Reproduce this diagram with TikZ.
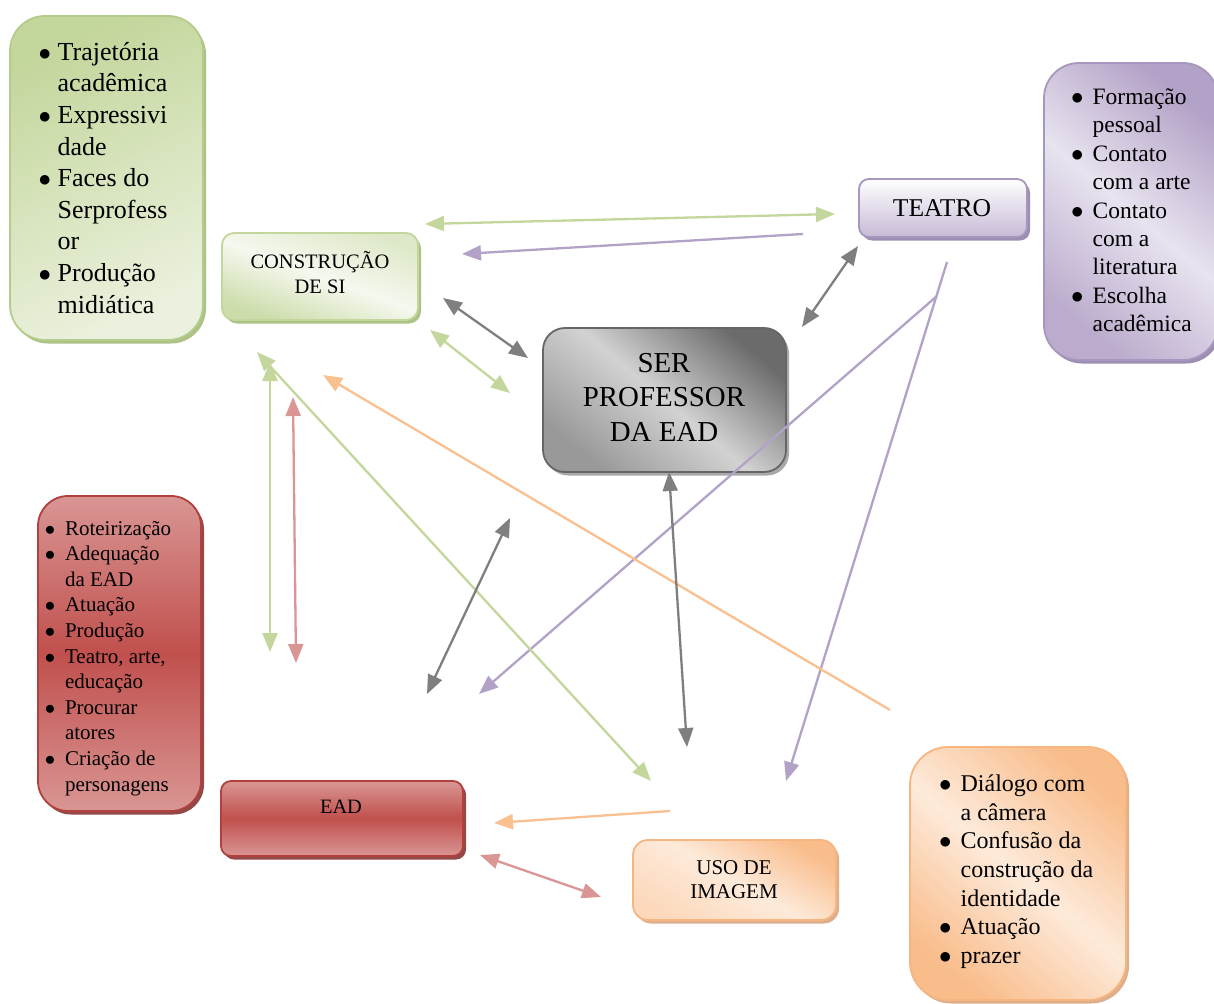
\documentclass[tikz,border=0pt]{standalone}
\usepackage{fontspec}
\setmainfont{Liberation Serif}
\usetikzlibrary{arrows.meta,shadows}
\definecolor{gline}{HTML}{C3D69B}
\definecolor{pline}{HTML}{B3A2C7}
\definecolor{kline}{HTML}{7F7F7F}
\definecolor{oline}{HTML}{FAC090}
\definecolor{rline}{HTML}{D99694}
\definecolor{gdark}{HTML}{C3D69B}
\definecolor{glight}{HTML}{EBF1DE}
\definecolor{gborder}{HTML}{B5CB8A}
\definecolor{gshad}{HTML}{9FB873}
\definecolor{pdark}{HTML}{B3A2C7}
\definecolor{plight}{HTML}{E8E3EF}
\definecolor{pborder}{HTML}{A797BE}
\definecolor{pshad}{HTML}{8E7BA8}
\definecolor{odark}{HTML}{F9BD8C}
\definecolor{olight}{HTML}{FDEADA}
\definecolor{oborder}{HTML}{F7B57F}
\definecolor{oshad}{HTML}{D9A27A}
\definecolor{rdark}{HTML}{C0504D}
\definecolor{rlight}{HTML}{D99694}
\definecolor{rborder}{HTML}{B2403D}
\definecolor{rshad}{HTML}{7F2A28}
\definecolor{kdark}{HTML}{6B6B6B}
\definecolor{klight}{HTML}{D2D2D2}
\definecolor{kborder}{HTML}{666666}
\definecolor{kshad}{HTML}{9A9A9A}
\newcommand{\bul}{$\bullet$}
\begin{document}
\begin{tikzpicture}[x=1pt,y=-1pt,
  boxbase/.style={line width=1.8pt, inner sep=0pt},
  shad/.style={drop shadow={shadow xshift=3pt,shadow yshift=-3.5pt,fill=#1,opacity=0.85}},
  arr/.style={line width=2.3pt, -{Triangle[length=19pt,width=15pt]}},
  darr/.style={line width=2.3pt, {Triangle[length=19pt,width=15pt]}-{Triangle[length=19pt,width=15pt]}},
  listtext/.style={anchor=north west, inner sep=0pt, align=left},
  lbl/.style={inner sep=0pt, align=center}
]
\useasboundingbox (0,0) rectangle (1214,1003);
\fill[white] (0,0) rectangle (1214,1003);

% ---------- list boxes ----------
\node[boxbase, draw=gborder, rounded corners=35pt, minimum width=193pt, minimum height=324pt,
  top color=gdark, bottom color=glight, shading angle=25, shad=gshad] (glist) at (106.5,178) {};
\node[listtext, font=\fontsize{26pt}{31.6pt}\selectfont] (gtext) at (38.5,38) {%
\begin{tabular}{@{}l@{\hspace{6.5pt}}l@{}}
\bul & Trajetória\\ & acadêmica\\
\bul & Expressivi\\ & dade\\
\bul & Faces do\\ & Serprofess\\ & or\\
\bul & Produção\\ & midiática
\end{tabular}};

\node[boxbase, draw=pborder, rounded corners=35pt, minimum width=174pt, minimum height=297pt,
  top color=pdark, bottom color=pdark!90!white, middle color=plight, shading angle=-40, shad=pshad] (plist) at (1131,211.5) {};
\node[listtext, font=\fontsize{23.5pt}{28.4pt}\selectfont] (ptext) at (1071,84.5) {%
\begin{tabular}{@{}l@{\hspace{9pt}}l@{}}
\bul & Formação\\ & pessoal\\
\bul & Contato\\ & com a arte\\
\bul & Contato\\ & com a\\ & literatura\\
\bul & Escolha\\ & acadêmica
\end{tabular}};

\node[boxbase, draw=rborder, rounded corners=30pt, minimum width=163pt, minimum height=315pt,
  top color=rlight, bottom color=rlight, middle color=rdark, shad=rshad] (rlist) at (119.5,653.5) {};
\node[listtext, font=\fontsize{21pt}{25.6pt}\selectfont] (rtext) at (44.75,517) {%
\begin{tabular}{@{}l@{\hspace{9.75pt}}l@{}}
\bul & Roteirização\\
\bul & Adequação\\ & da EAD\\
\bul & Atuação\\
\bul & Produção\\
\bul & Teatro, arte,\\ & educação\\
\bul & Procurar\\ & atores\\
\bul & Criação de\\ & personagens
\end{tabular}};

\node[boxbase, draw=oborder, rounded corners=38pt, minimum width=216pt, minimum height=253pt,
  top color=odark, bottom color=odark, middle color=olight, shading angle=-40, shad=oshad] (olist) at (1018,873.5) {};
\node[listtext, font=\fontsize{24pt}{28.7pt}\selectfont] (otext) at (939,771) {%
\begin{tabular}{@{}l@{\hspace{9pt}}l@{}}
\bul & Diálogo com\\ & a câmera\\
\bul & Confusão da\\ & construção da\\ & identidade\\
\bul & Atuação\\
\bul & prazer
\end{tabular}};

% ---------- concept boxes ----------
\node[boxbase, draw=gline, rounded corners=12pt, minimum width=196pt, minimum height=87pt,
  top color=gline!55!white, bottom color=gline!85!white, middle color=glight!50!white, shading angle=-20, shad=gshad] (cons) at (320,276.5) {};
\node[lbl, font=\fontsize{20.5pt}{25pt}\selectfont] (consl) at (320,273) {CONSTRUÇÃO\\DE SI};

\node[boxbase, draw=pborder, rounded corners=10pt, minimum width=168pt, minimum height=58pt,
  top color=white, bottom color=pline!75!white, shad=pshad] (teatro) at (943,208) {};
\node[lbl, font=\fontsize{25.6pt}{30pt}\selectfont] (teatrol) at (942,208) {TEATRO};

\node[boxbase, draw=kborder, rounded corners=22pt, minimum width=243pt, minimum height=144pt,
  top color=kdark, bottom color=kline!80!white, middle color=klight, shading angle=-40, shad=kshad] (ser) at (664.5,400) {};
\node[lbl, font=\fontsize{28.9pt}{34.5pt}\selectfont] (serl) at (664,397) {SER\\PROFESSOR\\DA EAD};

\node[boxbase, draw=rborder, rounded corners=10pt, minimum width=242pt, minimum height=75pt,
  top color=rlight, bottom color=rlight, middle color=rdark, shad=rshad] (ead) at (342,818.5) {};
\node[lbl, font=\fontsize{20.4pt}{24pt}\selectfont] (eadl) at (341,807) {EAD};

\node[boxbase, draw=oborder, rounded corners=15pt, minimum width=203pt, minimum height=80pt,
  top color=odark, bottom color=oline!60!white, middle color=olight, shading angle=-30, shad=oshad] (uso) at (734.5,880) {};
\node[lbl, font=\fontsize{21pt}{24pt}\selectfont] (usol) at (734,880) {USO DE\\IMAGEM};

% ---------- connector end points ----------
\coordinate (g1a) at (425,224);  \coordinate (g1b) at (835,214);
\coordinate (p2a) at (803,234);  \coordinate (p2b) at (462,254);
\coordinate (k3a) at (443,298);  \coordinate (k3b) at (528,358);
\coordinate (g4a) at (430,330);  \coordinate (g4b) at (510,393);
\coordinate (k5a) at (858,246);  \coordinate (k5b) at (802,327);
\coordinate (p6a) at (947,262);  \coordinate (p6b) at (786,781);
\coordinate (p7a) at (937,296);  \coordinate (p7b) at (479,694);
\coordinate (o8a) at (890,710);  \coordinate (o8b) at (323,375);
\coordinate (g9a) at (270,362);  \coordinate (g9b) at (270,652);
\coordinate (r10a) at (293,397); \coordinate (r10b) at (296,663);
\coordinate (g11a) at (257,352); \coordinate (g11b) at (651,781);
\coordinate (k12a) at (510,518); \coordinate (k12b) at (427,694);
\coordinate (k13a) at (669,472); \coordinate (k13b) at (687,747);
\coordinate (o14a) at (670,811); \coordinate (o14b) at (494,823);
\coordinate (r15a) at (480,855); \coordinate (r15b) at (601,897);

% ---------- connectors ----------
\draw[darr, gline] (g1a) -- (g1b);
\draw[arr, pline] (p2a) -- (p2b);
\draw[darr, kline] (k3a) -- (k3b);
\draw[darr, gline] (g4a) -- (g4b);
\draw[darr, kline] (k5a) -- (k5b);
\draw[arr, pline] (p6a) -- (p6b);
\draw[arr, pline] (p7a) -- (p7b);
\draw[arr, oline] (o8a) -- (o8b);
\draw[darr, gline] (g9a) -- (g9b);
\draw[darr, rline] (r10a) -- (r10b);
\draw[darr, gline] (g11a) -- (g11b);
\draw[darr, kline] (k12a) -- (k12b);
\draw[darr, kline] (k13a) -- (k13b);
\draw[arr, oline] (o14a) -- (o14b);
\draw[darr, rline] (r15a) -- (r15b);
\end{tikzpicture}
\end{document}
